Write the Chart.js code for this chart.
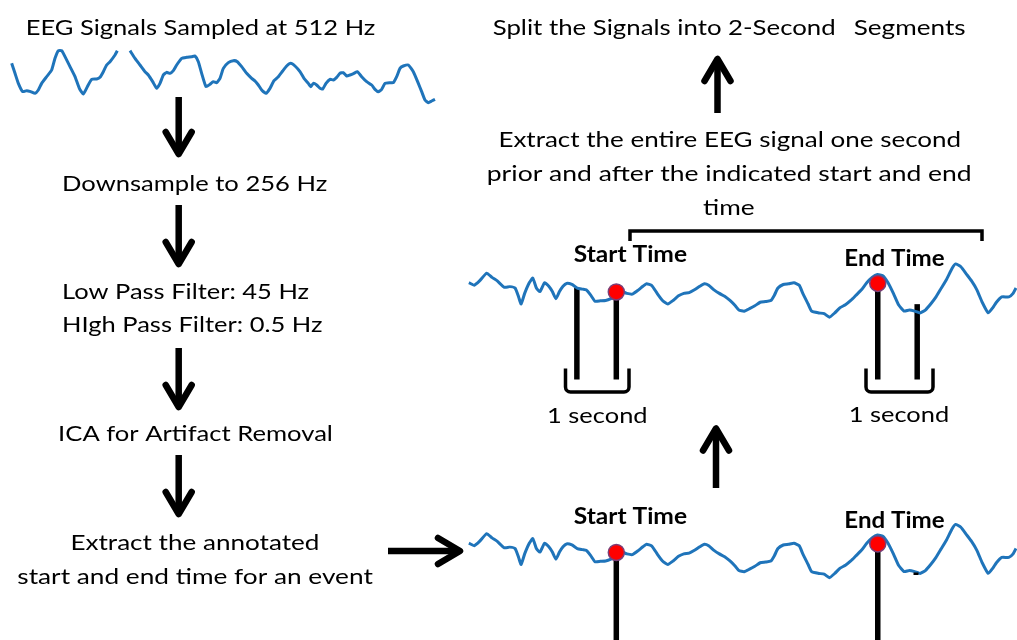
<!DOCTYPE html>
<html>
<head>
<meta charset="utf-8">
<script src="https://cdn.jsdelivr.net/npm/chart.js@4.4.0/dist/chart.umd.min.js"></script>
<style>
  html, body { margin: 0; padding: 0; background: #ffffff; }
  #wrap { position: relative; width: 1017px; height: 640px; }
</style>
</head>
<body>
<div id="wrap"><canvas id="c"></canvas></div>
<script>
// ---------------- DATA ----------------
// Raw EEG trace (512 Hz), time in ticks, amplitude in arbitrary µV units (null = gap)
const rawTime = [35,45,55,68,80,92,105,115,125,140,155,165,175,185,195,210,225,238,250,262,275,290,300,310,320,330,345,352,
  371,
  390,405,420,435,445,458,470,480,490,500,510,520,530,545,560,575,585,595,605,618,630,640,650,660,670,685,700,712,725,740,
  755,765,775,785,798,810,822,835,848,860,872,885,900,912,925,932,940,950,960,968,978,990,1000,1010,1020,1030,1040,1050,1062,1072,
  1085,1100,1115,1125,1135,1145,1155,1170,1180,1190,1200,1210,1225,1240,1255,1265,1275,1285,1295,1305];
const rawAmp = [40,10,-20,-45,-42,-45,-50,-40,-20,0,20,55,78,78,60,30,0,-35,-52,-30,-8,-7,-2,15,35,45,65,78,
  null,
  78,55,35,15,5,-15,-35,-20,5,13,10,18,35,55,58,60,62,45,10,-30,-23,-15,-18,-5,25,42,48,45,30,10,
  -5,-13,-25,-40,-50,-35,-12,0,17,32,40,32,15,-5,-20,-30,-20,-25,-35,-37,-20,-8,-10,-2,10,12,2,5,10,15,
  0,-15,-25,-38,-45,-38,-20,-18,-18,0,25,32,35,15,-20,-45,-70,-78,-73,-68];

// Preprocessed EEG segment (shown twice on the right)
const segTime = [25,40,55,75,90,105,125,140,155,165,172,182,195,205,215,225,238,250,260,270,
  280,290,300,315,330,345,355,368,380,395,410,425,440,455,470,485,500,515,525,540,
  555,570,585,600,615,630,645,660,675,688,700,715,730,745,760,775,785,800,815,830,
  845,860,875,885,895,910,925,940,955,965,980,990,1010,1025,1040,1055,1070,1085,1100,1115,
  1130,1145,1160,1175,1190,1205,1220,1235,1250,1265,1280,1295,1310,1325,1340,1355,1370,1385,1395,1410,
  1425,1440,1455,1470,1487,1500,1510,1525,1545,1557,1565];
const segAmp = [15,8,20,42,30,20,2,4,0,-25,-45,-15,15,28,0,-10,15,5,-10,-30,
  -10,5,13,10,0,-3,-5,-20,-37,-36,-35,-30,-22,-10,-15,-17,-7,5,12,7,
  -15,-35,-45,-35,-22,-15,-13,-5,5,12,8,-5,-15,-23,-35,-50,-62,-65,-58,-50,
  -40,-38,-35,-20,0,10,12,15,8,-15,-45,-65,-70,-72,-82,-70,-55,-47,-35,-20,
  -5,15,30,38,35,15,-15,-48,-65,-62,-65,-70,-62,-45,-25,0,25,55,68,60,
  40,20,-5,-40,-70,-55,-40,-25,-25,-15,0];

// Annotated event
const eventTimes = [440, 1176];          // start, end (ticks)
const markerAmp  = [-11, 13];            // red marker levels
const ONE_SECOND = 111;                  // ticks per second

// Text labels
const stepLabels = ["EEG Signals Sampled at 512 Hz", "Downsample to 256 Hz", "Low Pass Filter: 45 Hz",
  "HIgh Pass Filter: 0.5 Hz", "ICA for Artifact Removal", "Extract the annotated", "start and end time for an event"];
const rightLabels = ["Split the Signals into 2-Second", "Segments", "Extract the entire EEG signal one second",
  "prior and after the indicated start and end", "time"];
const eventLabels = ["Start Time", "End Time"];
const spanLabel = "1 second";

// ---------------- LAYOUT ----------------
const W = 1017, H = 640;
const BLUE = '#1f74ba';
const FONT = 'Lato, "Open Sans", sans-serif';

function xAxis(v0, p0, upp) { const min = v0 - p0 * upp; return { type: 'linear', display: false, bounds: 'data', min: min, max: min + W * upp }; }
function yAxis(v0, p0, upp) { const max = v0 + p0 * upp; return { type: 'linear', display: false, bounds: 'data', min: max - H * upp, max: max }; }

const SEG_UPP = 2.815;
const SEG_SHIFT = 260.5;

const pts = (ts, vs) => ts.map((t, i) => ({ x: t, y: vs[i] }));

function segAt(t) {
  for (let i = 0; i < segTime.length - 1; i++) {
    if (t >= segTime[i] && t <= segTime[i + 1]) {
      const f = (t - segTime[i]) / (segTime[i + 1] - segTime[i]);
      return segAmp[i] + f * (segAmp[i + 1] - segAmp[i]);
    }
  }
  return 0;
}

// text layout: [label, left, right, baseline, capHeight, bold]
const textLayout = [
  [stepLabels[0], 27, 375, 35, 15, false],
  [stepLabels[1], 63.3, 326.7, 191, 15.3, false],
  [stepLabels[2], 63.3, 308.3, 299.3, 15.6, false],
  [stepLabels[3], 63.3, 321.7, 331.5, 15.6, false],
  [stepLabels[4], 59.3, 331.7, 440.7, 15.5, false],
  [stepLabels[5], 71.7, 318.3, 550, 15.5, false],
  [stepLabels[6], 17.3, 373.3, 584, 15.5, false],
  [rightLabels[0], 492.7, 834.5, 34.9, 15.6, false],
  [rightLabels[1], 853.7, 965.3, 34.9, 15.6, false],
  [rightLabels[2], 499.6, 960, 147.2, 15.6, false],
  [rightLabels[3], 488, 970.5, 181.4, 15.6, false],
  [rightLabels[4], 703, 754.3, 214.5, 15.6, false],
  [eventLabels[0], 573.7, 687.4, 262, 16, true],
  [eventLabels[1], 845.4, 944.9, 266, 16, true],
  [eventLabels[0], 573.7, 687.4, 523.5, 16, true],
  [eventLabels[1], 845.4, 944.9, 528, 16, true],
  [spanLabel, 548.3, 646.7, 422.5, 15.3, false],
  [spanLabel, 850, 948.3, 422, 15.3, false]
];

// arrows: [x1,y1,x2,y2]
const arrowLayout = [
  [178.7, 97, 178.7, 154], [178.7, 205, 178.7, 264], [178.7, 348, 178.7, 407], [178.7, 455, 178.7, 514],
  [388, 551, 460, 551], [717.5, 113, 717.5, 59], [716, 488, 716, 428.5]
];

function drawFit(ctx, s, x0, x1, base, cap, bold) {
  const w = bold ? 'bold ' : '';
  ctx.font = w + '100px ' + FONT;
  const ratio = ctx.measureText('H').actualBoundingBoxAscent / 100;
  const size = cap / ratio;
  ctx.font = w + size.toFixed(2) + 'px ' + FONT;
  const m = ctx.measureText(s);
  const ink = m.actualBoundingBoxLeft + m.actualBoundingBoxRight;
  const sx = (x1 - x0) / ink;
  ctx.save();
  ctx.translate(x0 + m.actualBoundingBoxLeft * sx, base);
  ctx.scale(sx, 1);
  ctx.fillStyle = '#000';
  ctx.textAlign = 'left';
  ctx.textBaseline = 'alphabetic';
  ctx.fillText(s, 0, 0);
  ctx.restore();
}

function drawArrow(ctx, x1, y1, x2, y2) {
  const a = Math.atan2(y2 - y1, x2 - x1);
  const L = 22, HW = 13;
  ctx.save();
  ctx.strokeStyle = '#000';
  ctx.lineWidth = 6.5;
  ctx.lineCap = 'butt';
  ctx.beginPath(); ctx.moveTo(x1, y1); ctx.lineTo(x2, y2); ctx.stroke();
  ctx.lineCap = 'round'; ctx.lineJoin = 'round';
  const bx = x2 - L * Math.cos(a), by = y2 - L * Math.sin(a);
  const nx = -Math.sin(a) * HW, ny = Math.cos(a) * HW;
  ctx.beginPath();
  ctx.moveTo(bx + nx, by + ny); ctx.lineTo(x2, y2); ctx.lineTo(bx - nx, by - ny);
  ctx.stroke();
  ctx.restore();
}

function drawU(ctx, x0, x1, top, bottom) {
  const r = 5;
  ctx.beginPath();
  ctx.moveTo(x0, top);
  ctx.lineTo(x0, bottom - r);
  ctx.arcTo(x0, bottom, x0 + r, bottom, r);
  ctx.lineTo(x1 - r, bottom);
  ctx.arcTo(x1, bottom, x1, bottom - r, r);
  ctx.lineTo(x1, top);
  ctx.stroke();
}

const markerLinesPlugin = {
  id: 'markerLines',
  beforeDatasetsDraw(chart) {
    const ctx = chart.ctx, xs = chart.scales.xS, y1 = chart.scales.yS1, y2 = chart.scales.yS2;
    ctx.save();
    ctx.strokeStyle = '#000';
    ctx.lineWidth = 5.5;
    ctx.lineCap = 'butt';
    // top trace: 1 s before start, start, end, 1 s after end
    const tops = [
      [eventTimes[0] - ONE_SECOND, segAt(eventTimes[0] - ONE_SECOND)],
      [eventTimes[0], markerAmp[0]],
      [eventTimes[1], markerAmp[1]],
      [eventTimes[1] + ONE_SECOND, segAt(eventTimes[1] + ONE_SECOND) + 22]
    ];
    tops.forEach(([t, v]) => {
      const x = xs.getPixelForValue(t);
      ctx.beginPath(); ctx.moveTo(x, y1.getPixelForValue(v)); ctx.lineTo(x, 379.5); ctx.stroke();
    });
    // bottom trace: start and end
    [0, 1].forEach(i => {
      const x = xs.getPixelForValue(eventTimes[i]);
      ctx.beginPath(); ctx.moveTo(x, y2.getPixelForValue(markerAmp[i])); ctx.lineTo(x, H + 5); ctx.stroke();
    });
    ctx.restore();
  },
  afterDatasetsDraw(chart) {
    const ctx = chart.ctx;
    ctx.save();
    // 1-second brackets
    ctx.strokeStyle = '#000';
    ctx.lineWidth = 3.5;
    ctx.lineJoin = 'round';
    drawU(ctx, 565.5, 629, 368.5, 392);
    drawU(ctx, 866, 933, 368.5, 392);
    // span bracket above the top trace
    ctx.lineJoin = 'miter';
    ctx.beginPath();
    ctx.moveTo(630, 241); ctx.lineTo(630, 231); ctx.lineTo(982, 231); ctx.lineTo(982, 241);
    ctx.stroke();
    // small mark near bottom trace
    ctx.fillStyle = '#000';
    ctx.fillRect(913.5, 572.5, 5, 2.5);
    // arrows
    arrowLayout.forEach(a => drawArrow(ctx, a[0], a[1], a[2], a[3]));
    // texts
    textLayout.forEach(t => drawFit(ctx, t[0], t[1], t[2], t[3], t[4], t[5]));
    ctx.restore();
  }
};

const lineStyle = { borderColor: BLUE, borderWidth: 3, pointRadius: 0, tension: 0.15, fill: false, spanGaps: false, order: 2 };
const markerStyle = { showLine: false, pointRadius: 8, pointHoverRadius: 8, pointBackgroundColor: '#ff0000',
  pointBorderColor: '#7b3f78', pointBorderWidth: 1.5, order: 0 };

new Chart(document.getElementById('c'), {
  type: 'line',
  data: {
    datasets: [
      Object.assign({ label: 'raw', data: pts(rawTime, rawAmp), xAxisID: 'xA', yAxisID: 'yA' }, lineStyle),
      Object.assign({ label: 'segment', data: pts(segTime, segAmp), xAxisID: 'xS', yAxisID: 'yS1' }, lineStyle),
      Object.assign({ label: 'segment2', data: pts(segTime, segAmp), xAxisID: 'xS', yAxisID: 'yS2' }, lineStyle),
      Object.assign({ label: 'events', data: pts(eventTimes, markerAmp), xAxisID: 'xS', yAxisID: 'yS1' }, markerStyle),
      Object.assign({ label: 'events2', data: pts(eventTimes, markerAmp), xAxisID: 'xS', yAxisID: 'yS2' }, markerStyle)
    ]
  },
  options: {
    responsive: true,
    maintainAspectRatio: false,
    animation: false,
    devicePixelRatio: 1,
    layout: { padding: 0, autoPadding: false },
    events: [],
    plugins: { legend: { display: false }, tooltip: { enabled: false }, title: { display: false } },
    scales: {
      xA: xAxis(0, 0, 3),
      yA: yAxis(110, 40, 3),
      xS: xAxis(0, 460, SEG_UPP),
      yS1: yAxis(200, 217, SEG_UPP),
      yS2: yAxis(200, 217 + SEG_SHIFT, SEG_UPP)
    }
  },
  plugins: [markerLinesPlugin]
});
</script>
</body>
</html>
